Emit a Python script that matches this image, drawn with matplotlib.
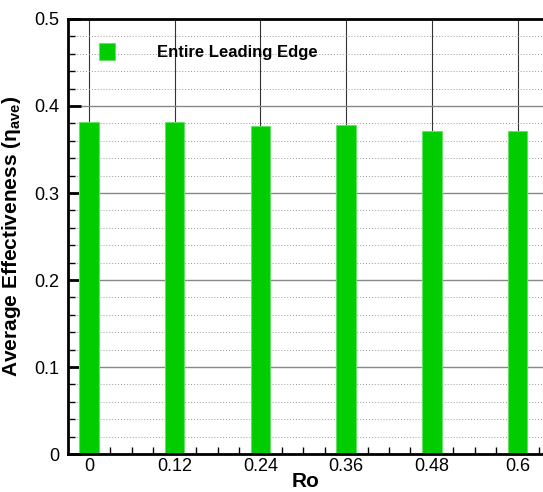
import matplotlib.pyplot as plt
from matplotlib.ticker import MultipleLocator, FixedLocator

plt.rcParams['font.family'] = ['Liberation Sans', 'DejaVu Sans']

# data
ro = [0, 0.12, 0.24, 0.36, 0.48, 0.6]
eta_ave = [0.382, 0.382, 0.377, 0.378, 0.371, 0.371]
tick_labels = ["0", "0.12", "0.24", "0.36", "0.48", "0.6"]

fig = plt.figure(figsize=(5.43, 4.92), dpi=100)
ax = fig.add_axes([0.125, 0.0772, 0.877, 0.8842])

# grid behind the bars
ax.set_axisbelow(True)
ax.yaxis.grid(True, which="major", color="#888888", linewidth=1.0)
ax.yaxis.grid(True, which="minor", color="#999999", linewidth=0.7, linestyle=(0, (1, 2)))
ax.xaxis.grid(True, which="major", color="#333333", linewidth=0.8)

ax.bar(ro, eta_ave, width=0.027, color="#00cc00", edgecolor="#66e066",
       linewidth=0.8, label="Entire Leading Edge")

ax.set_xlim(-0.0294, 0.637)
ax.set_ylim(0, 0.5)

ax.xaxis.set_major_locator(FixedLocator(ro))
ax.set_xticklabels(tick_labels)
ax.xaxis.set_minor_locator(MultipleLocator(0.03))
ax.set_yticks([0, 0.1, 0.2, 0.3, 0.4, 0.5])
ax.set_yticklabels(["0", "0.1", "0.2", "0.3", "0.4", "0.5"])
ax.yaxis.set_minor_locator(MultipleLocator(0.02))

ax.tick_params(axis="both", which="major", direction="in", length=9, width=2,
               labelsize=13, colors="black")
ax.tick_params(axis="x", which="major", pad=3)
ax.tick_params(axis="y", which="major", pad=6)
ax.tick_params(axis="both", which="minor", direction="in", length=5, width=1)
ax.tick_params(axis="x", which="both", top=False)
ax.tick_params(axis="y", which="both", right=False)

for side in ["left", "bottom", "top"]:
    ax.spines[side].set_linewidth(2)
    ax.spines[side].set_color("black")
ax.spines["right"].set_visible(False)

ax.set_xlabel("Ro", fontsize=15, fontweight="bold", labelpad=-2)
ax.set_ylabel(r"Average Effectiveness ($\mathregular{\eta_{ave}}$)", fontsize=15,
              fontweight="bold", labelpad=8)

ax.legend(loc="upper left", bbox_to_anchor=(0.033, 0.98), frameon=False,
          prop={"weight": "bold", "size": 12}, handlelength=1.0, handleheight=1.25,
          handletextpad=2.5)

plt.savefig("out.png", dpi=100)
